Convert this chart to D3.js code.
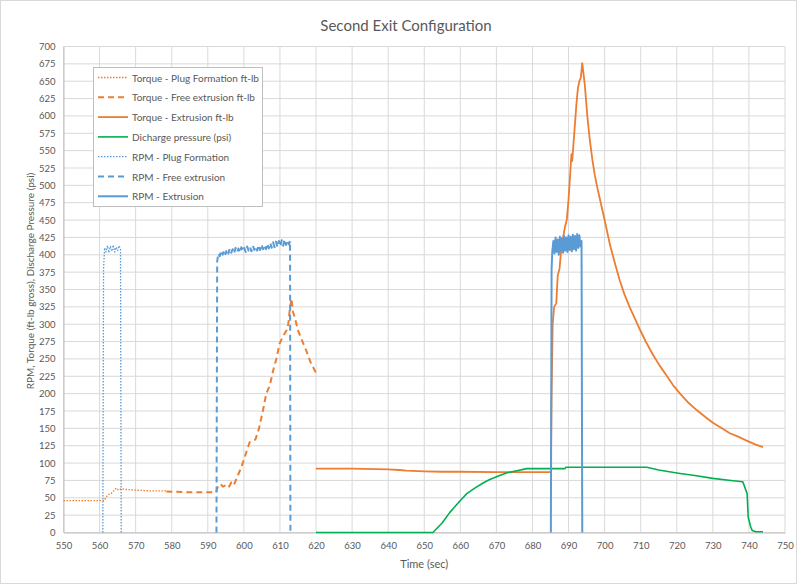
<!DOCTYPE html>
<html>
<head>
<meta charset="utf-8">
<script src="https://cdnjs.cloudflare.com/ajax/libs/d3/7.8.5/d3.min.js"></script>
<style>
  body { margin: 0; background: #fff; }
</style>
</head>
<body>
<div class="chart"></div>
<script>
// Data: [time (sec), value]
var torquePlug = [[550,46],[561.3,46],[561.8,51],[562.5,55],[563.2,56],[563.9,60],[564.6,64],[565.3,61],[566,63],[567.4,62],[570,61],[574,60],[578.5,60]];
var torqueFree = [[578.5,59],[585,58],[592.3,58],[592.8,66],[593.5,70],[594.2,66],[595,68],[595.8,65],[596.5,72],[597.2,68],[598,78],[599.3,94],[600.7,116],[601.6,130],[603.2,134],[604.2,150],[605.3,176],[606.2,200],[607.2,212],[608.1,233],[609,250],[609.9,272],[610.8,282],[611.8,291],[612.3,300],[612.7,320],[613.2,337],[613.6,318],[614.1,310],[615,291],[616,278],[617.3,262],[618.5,245],[620.1,229]];
var torqueExt = [[620,92],[630,92],[640,91],[643,90],[645,89],[650,88],[655,87.5],[660,87.5],[670,87],[680,87],[685.1,87],[685.3,200],[685.6,300],[686,325],[686.6,330],[687,370],[687.5,380],[688,410],[688.5,425],[689,440],[689.5,450],[690,480],[690.5,520],[690.8,545],[691,535],[691.3,555],[691.8,590],[692.2,618],[692.6,640],[693,650],[693.4,655],[693.8,676],[694.5,645],[695.2,600],[695.9,565],[696.6,537],[697.3,514],[698,496],[698.7,480],[700,450],[701.5,414],[703,385],[704.2,363],[705.5,343],[707,324],[708.5,307],[709.8,292],[711.5,274],[713.4,256],[715.3,240],[717.3,225],[719,212],[720.9,200],[723,188],[725.6,176],[728,166],[730,158],[732.5,150],[734.7,143],[737,138],[739.5,132],[741.7,127],[743.9,123]];
var discharge = [[620,0],[652.4,0],[655,14],[657.1,29],[660,46],[661.8,56],[664,64],[666.2,71],[668,76],[670.9,82],[673,86],[675.7,89],[678.4,92],[685,92],[689,92],[689.3,94],[700,94],[711.7,94],[715,90],[720.9,85],[725,82],[730,78],[735,75],[738.3,73],[739.5,56],[739.8,22],[740.5,8],[740.9,3],[742,1],[743.9,1]];
var rpmPlug = [[560.9,0],[561.1,380],[561.4,410],[561.8,404],[562.2,413],[562.6,403],[563,412],[563.4,405],[563.8,414],[564.2,404],[564.6,411],[565,406],[565.4,413],[565.8,408],[566,0]];
var rpmFree = [[592.4,0],[592.6,390],[592.9,402],[593.3,398],[593.7,406],[594.1,400],[594.5,407],[594.9,401],[595.3,408],[595.7,402],[596.1,409],[596.5,403],[596.9,408],[597.3,402],[597.7,410],[598.1,404],[598.5,409],[598.9,403],[599.3,411],[599.7,405],[600.1,410],[600.5,404],[600.9,412],[601.3,406],[601.7,411],[602.1,405],[602.5,413],[602.9,407],[603.3,412],[603.7,406],[604.1,414],[604.5,407],[604.9,415],[605.3,408],[605.7,414],[606.1,408],[606.5,416],[606.9,409],[607.3,417],[607.7,410],[608.1,418],[608.5,411],[608.9,419],[609.3,411],[609.7,420],[610.1,412],[610.5,421],[610.9,413],[611.3,422],[611.7,414],[612.1,421],[612.5,415],[612.8,420],[612.9,0]];
var rpmExt = [[685.1,0],[685.3,380],[685.5,405],[685.8,420],[686.1,402],[686.4,425],[686.7,404],[687,422],[687.3,400],[687.6,426],[687.9,405],[688.2,424],[688.5,403],[688.8,427],[689.1,406],[689.4,425],[689.7,404],[690,428],[690.3,407],[690.6,426],[690.9,405],[691.2,429],[691.5,408],[691.8,427],[692.1,406],[692.4,430],[692.7,410],[693,428],[693.3,412],[693.6,420],[693.8,0]];

var xTicks = d3.range(550, 751, 10);
var yTicks = d3.range(0, 701, 25);

var width = 797;
var height = 584;
var margin = ({ top: 46.5, right: 12, bottom: 51.5, left: 63.5 });
var fontFace = "Lato, 'Open Sans', sans-serif";
var textColor = "#595959";

var orange = "#ED7D31", blue = "#5B9BD5", green = "#00B050";

// Series definitions, in the legend order
var series = [
    { name: "Torque - Plug Formation ft-lb", data: torquePlug, color: orange, width: 1.3, dash: "1.5,1.5" },
    { name: "Torque - Free extrusion ft-lb", data: torqueFree, color: orange, width: 2, dash: "6,4" },
    { name: "Torque - Extrusion ft-lb", data: torqueExt, color: orange, width: 1.8, dash: null },
    { name: "Dicharge pressure (psi)", data: discharge, color: green, width: 1.6, dash: null },
    { name: "RPM - Plug Formation", data: rpmPlug, color: blue, width: 1.3, dash: "1.5,1.5" },
    { name: "RPM - Free extrusion", data: rpmFree, color: blue, width: 2, dash: "6,4" },
    { name: "RPM - Extrusion", data: rpmExt, color: blue, width: 2, dash: null }
];

const svg = d3.select("div.chart")
    .append("svg")
    .attr("width", width)
    .attr("height", height)
    .style("font-family", fontFace);

// Chart area outline
svg.append("rect")
    .attr("x", 0.5).attr("y", 0.5)
    .attr("width", width - 1).attr("height", height - 1)
    .attr("fill", "white")
    .attr("stroke", "#d9d9d9");

var x = d3.scaleLinear()
    .domain([550, 750])
    .range([margin.left, width - margin.right]);
var y = d3.scaleLinear()
    .domain([0, 700])
    .range([height - margin.bottom, margin.top]);

// Grid lines
svg.append("g")
    .selectAll("line")
    .data(yTicks)
    .join("line")
      .attr("x1", x(550)).attr("x2", x(750))
      .attr("y1", d => y(d)).attr("y2", d => y(d))
      .attr("stroke", "#d9d9d9")
      .attr("stroke-width", 1);
svg.append("g")
    .selectAll("line")
    .data(xTicks)
    .join("line")
      .attr("x1", d => x(d)).attr("x2", d => x(d))
      .attr("y1", y(0)).attr("y2", y(700))
      .attr("stroke", "#d9d9d9")
      .attr("stroke-width", 1);

// Axes
var xAxis = g => g
    .attr("transform", `translate(0,${y(0)})`)
    .call(d3.axisBottom(x).tickValues(xTicks).tickSize(0).tickPadding(10))
    .call(g => g.select(".domain").attr("stroke", "#bfbfbf"))
    .style("font-size", "9.5px")
    .style("font-family", fontFace)
    .style("color", textColor);
var yAxis = g => g
    .attr("transform", `translate(${x(550)},0)`)
    .call(d3.axisLeft(y).tickValues(yTicks).tickSize(0).tickPadding(8))
    .call(g => g.select(".domain").attr("stroke", "#bfbfbf"))
    .style("font-size", "9.5px")
    .style("font-family", fontFace)
    .style("color", textColor);

svg.append("g").call(xAxis);
svg.append("g").call(yAxis);

// Lines
var line = d3.line()
    .x(d => x(d[0]))
    .y(d => y(d[1]));

svg.append("g")
    .selectAll("path")
    .data(series)
    .join("path")
      .attr("d", d => line(d.data))
      .attr("fill", "none")
      .attr("stroke", d => d.color)
      .attr("stroke-width", d => d.width)
      .attr("stroke-dasharray", d => d.dash)
      .attr("stroke-linejoin", "round");

// Titles
svg.append("text")
    .attr("x", 406)
    .attr("y", 31)
    .attr("text-anchor", "middle")
    .attr("font-size", 15)
    .attr("fill", textColor)
    .text("Second Exit Configuration");
svg.append("text")
    .attr("x", (x(550) + x(750)) / 2)
    .attr("y", 568)
    .attr("text-anchor", "middle")
    .attr("font-size", 11)
    .attr("fill", textColor)
    .text("Time (sec)");
svg.append("text")
    .attr("transform", `translate(34,281) rotate(-90)`)
    .attr("text-anchor", "middle")
    .attr("font-size", 10)
    .attr("fill", textColor)
    .text("RPM, Torque (ft-lb gross), Discharge Pressure (psi)");

// Legend
var legend = svg.append("g").attr("transform", "translate(93,67)");
legend.append("rect")
    .attr("x", 0.5).attr("y", 0.5)
    .attr("width", 169).attr("height", 139)
    .attr("fill", "white")
    .attr("stroke", "#bfbfbf");
var items = legend.selectAll("g")
    .data(series)
    .join("g")
      .attr("transform", (d, i) => `translate(0,${10.5 + i * 19.8})`);
items.append("line")
    .attr("x1", 5).attr("x2", 35)
    .attr("stroke", d => d.color)
    .attr("stroke-width", d => d.width)
    .attr("stroke-dasharray", d => d.dash);
items.append("text")
    .attr("x", 39)
    .attr("dominant-baseline", "central")
    .attr("font-size", 10)
    .attr("fill", textColor)
    .text(d => d.name);
</script>
</body>
</html>
